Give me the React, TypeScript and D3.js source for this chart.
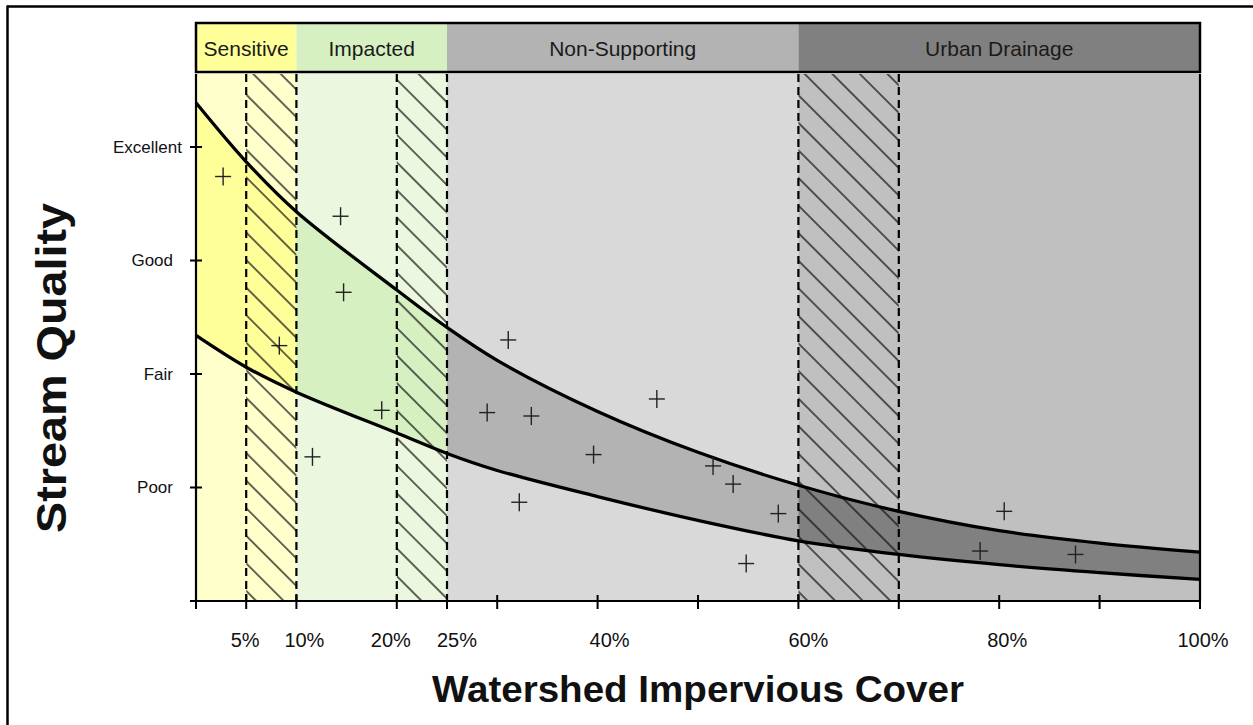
import React from 'react';
import * as d3 from 'd3';

// impervious cover (%) where the bands change
const zoneNames = ['Sensitive', 'Impacted', 'Non-Supporting', 'Urban Drainage'];
const zoneBounds = [0, 10, 25, 60, 100];
const headerColors = ['#ffff99', '#d7f0c2', '#b3b3b3', '#808080'];
const plotColors = ['#ffffcc', '#ecf7df', '#d9d9d9', '#c0c0c0'];
const bandColors = ['#ffff99', '#d7f0c2', '#b3b3b3', '#808080'];

// transition strips drawn hatched with dashed edges
const strips: [number, number][] = [[5, 10], [20, 25], [60, 70]];

const xTicks = [0, 5, 10, 20, 25, 30, 40, 50, 60, 70, 80, 90, 100];
const xLabelValues = [5, 10, 20, 25, 40, 60, 80, 100];
const xLabelText = ['5%', '10%', '20%', '25%', '40%', '60%', '80%', '100%'];

const qualityLevels = [1, 2, 3, 4];
const qualityNames = ['Poor', 'Fair', 'Good', 'Excellent'];

// envelope of stream quality vs impervious cover
const curveX = [0, 5, 10, 20, 25, 30, 40, 50, 60, 70, 80, 90, 100];
const upperQ = [4.39, 3.87, 3.43, 2.74, 2.41, 2.12, 1.67, 1.31, 1.02, 0.79, 0.62, 0.51, 0.43];
const lowerQ = [2.34, 2.06, 1.84, 1.48, 1.3, 1.15, 0.92, 0.71, 0.53, 0.41, 0.32, 0.25, 0.19];

// monitored streams
const siteCover = [2.7, 14.4, 14.7, 8.3, 18.5, 11.6, 31.1, 29.0, 33.4, 45.9, 39.6, 32.2, 51.5, 53.5, 58.0, 54.8, 80.5, 78.1, 87.6];
const siteQuality = [3.74, 3.39, 2.72, 2.25, 1.68, 1.27, 2.3, 1.66, 1.63, 1.78, 1.29, 0.87, 1.19, 1.03, 0.77, 0.33, 0.79, 0.44, 0.41];

const W = 1253;
const H = 725;
const FONT = '"Liberation Sans", Arial, Helvetica, sans-serif';

const App: React.FC = () => {
  const x = d3.scaleLinear().domain([0, 100]).range([196, 1200]);
  const y = d3.scaleLinear().domain([0, 4]).range([601, 147]);
  const plotTop = 74;
  const plotBottom = y(0);
  const headerTop = 23;
  const headerBottom = 72;

  const pts = curveX.map((c, i) => ({ c, hi: upperQ[i], lo: lowerQ[i] }));
  const band = d3.area<typeof pts[0]>()
    .x(d => x(d.c))
    .y0(d => y(d.lo))
    .y1(d => y(d.hi))
    .curve(d3.curveCatmullRom);
  const upperLine = d3.line<typeof pts[0]>().x(d => x(d.c)).y(d => y(d.hi)).curve(d3.curveCatmullRom);
  const lowerLine = d3.line<typeof pts[0]>().x(d => x(d.c)).y(d => y(d.lo)).curve(d3.curveCatmullRom);

  // small hand offsets for the percent labels, as in the original layout
  const xLabelShift: Record<number, number> = { 5: -1, 10: 8, 20: -6, 25: 10, 40: 12, 60: 10, 80: 8, 100: 3 };
  const yLabelGap: Record<number, number> = { 1: 23, 2: 23, 3: 23, 4: 14 };

  const zones = zoneNames.map((name, i) => ({ name, from: zoneBounds[i], to: zoneBounds[i + 1], i }));

  return (
    <svg width={W} height={H} style={{ position: 'absolute', left: 0, top: 0, background: '#fff' }} fontFamily={FONT}>
      <defs>
        <pattern id="hatch" patternUnits="userSpaceOnUse" width={19.5} height={19.5} patternTransform="rotate(45)">
          <line x1={0} y1={9.75} x2={19.5} y2={9.75} stroke="#111" strokeWidth={1.3} />
        </pattern>
        {zones.map(z => (
          <clipPath key={z.name} id={`zone-${z.i}`}>
            <rect x={x(z.from)} y={plotTop} width={x(z.to) - x(z.from)} height={plotBottom - plotTop} />
          </clipPath>
        ))}
      </defs>

      {/* frame */}
      <line x1={7} y1={6.5} x2={W} y2={6.5} stroke="#000" strokeWidth={2.5} />
      <line x1={7.5} y1={5.5} x2={7.5} y2={H} stroke="#000" strokeWidth={2.5} />

      {/* zone backgrounds and band */}
      {zones.map(z => (
        <g key={z.name}>
          <rect x={x(z.from)} y={plotTop} width={x(z.to) - x(z.from)} height={plotBottom - plotTop} fill={plotColors[z.i]} />
          <path d={band(pts) || ''} fill={bandColors[z.i]} clipPath={`url(#zone-${z.i})`} />
        </g>
      ))}

      {/* hatched transition strips */}
      {strips.map(([a, b]) => (
        <rect key={a} x={x(a)} y={plotTop} width={x(b) - x(a)} height={plotBottom - plotTop} fill="url(#hatch)" />
      ))}

      {/* envelope */}
      <path d={upperLine(pts) || ''} fill="none" stroke="#000" strokeWidth={3.3} />
      <path d={lowerLine(pts) || ''} fill="none" stroke="#000" strokeWidth={3.3} />

      {/* dashed strip edges */}
      {strips.flat().map(v => (
        <line key={v} x1={x(v)} x2={x(v)} y1={plotTop} y2={plotBottom} stroke="#000" strokeWidth={2.2} strokeDasharray="8,5" />
      ))}

      {/* sites */}
      {siteCover.map((c, i) => {
        const cx = x(c);
        const cy = y(siteQuality[i]);
        return (
          <g key={i} stroke="#222" strokeWidth={1.4}>
            <line x1={cx - 8} x2={cx + 8} y1={cy} y2={cy} />
            <line x1={cx} x2={cx} y1={cy - 9} y2={cy + 9} />
          </g>
        );
      })}

      {/* header */}
      {zones.map(z => (
        <g key={z.name}>
          <rect x={x(z.from)} y={headerTop} width={x(z.to) - x(z.from)} height={headerBottom - headerTop} fill={headerColors[z.i]} />
          <text x={(x(z.from) + x(z.to)) / 2} y={(headerTop + headerBottom) / 2 + 1} textAnchor="middle" dominantBaseline="central" fontSize={21} fill="#1a1a1a">
            {z.name}
          </text>
        </g>
      ))}
      <rect x={x(0)} y={headerTop} width={x(100) - x(0)} height={headerBottom - headerTop} fill="none" stroke="#000" strokeWidth={2.5} />

      {/* axes */}
      <line x1={x(0)} x2={x(0)} y1={plotTop} y2={plotBottom} stroke="#000" strokeWidth={2.2} />
      <line x1={x(100)} x2={x(100)} y1={plotTop} y2={plotBottom} stroke="#000" strokeWidth={2.2} />
      <line x1={x(0) - 2} x2={x(100) + 1} y1={plotBottom} y2={plotBottom} stroke="#000" strokeWidth={2.2} />
      {[0, ...qualityLevels].map(q => (
        <line key={q} x1={x(0) - 6} x2={x(0) + 6} y1={y(q)} y2={y(q)} stroke="#000" strokeWidth={2} />
      ))}
      {xTicks.map(t => (
        <line key={t} x1={x(t)} x2={x(t)} y1={plotBottom - 6} y2={plotBottom + 8} stroke="#000" strokeWidth={2} />
      ))}
      {qualityLevels.map((q, i) => (
        <text key={q} x={x(0) - yLabelGap[q]} y={y(q)} textAnchor="end" dominantBaseline="central" fontSize={17} fill="#111">
          {qualityNames[i]}
        </text>
      ))}
      {xLabelValues.map((v, i) => (
        <text key={v} x={x(v) + xLabelShift[v]} y={647} textAnchor="middle" fontSize={20} fill="#111">
          {xLabelText[i]}
        </text>
      ))}

      {/* titles */}
      <text x={698} y={702} textAnchor="middle" fontSize={36} fontWeight="bold" fill="#111" textLength={532} lengthAdjust="spacingAndGlyphs">
        Watershed Impervious Cover
      </text>
      <text transform="translate(66,368) rotate(-90)" textAnchor="middle" fontSize={42} fontWeight="bold" fill="#111" textLength={330} lengthAdjust="spacingAndGlyphs">
        Stream Quality
      </text>
    </svg>
  );
};

export default App;
